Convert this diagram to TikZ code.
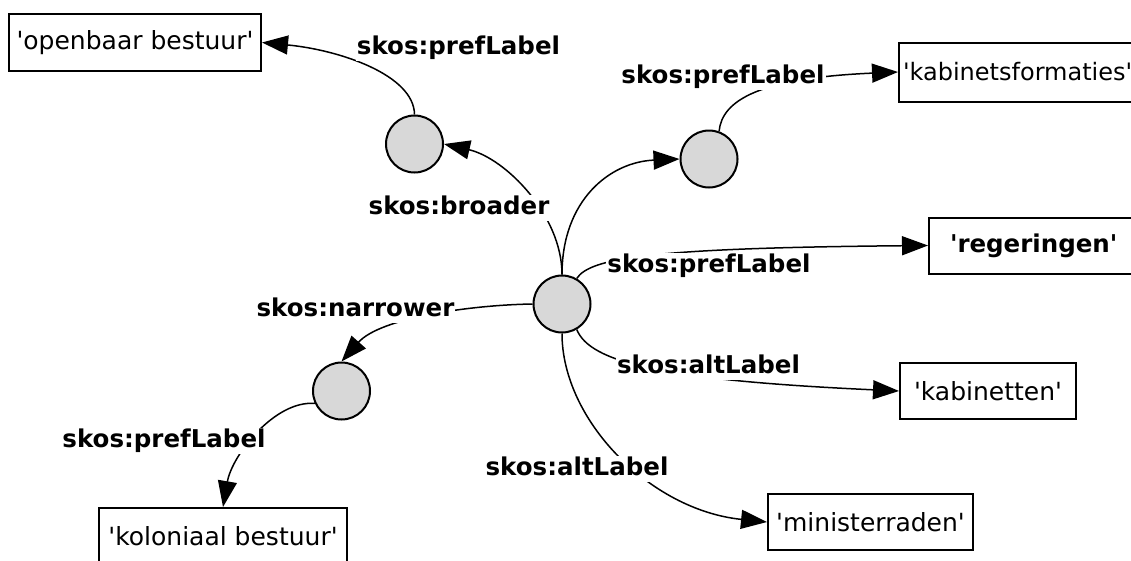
\documentclass[tikz,border=0pt]{standalone}
\usepackage{fontspec}
\newfontfamily\dvsans{DejaVu Sans}
\usetikzlibrary{arrows.meta}
\definecolor{nodegray}{RGB}{216,216,216}
\tikzset{
  concept/.style={circle, draw, line width=2pt, fill=nodegray, minimum size=57pt, inner sep=0pt},
  litbox/.style={rectangle, draw, line width=2pt, minimum height=57pt, inner sep=0pt, font=\dvsans\fontsize{25}{29}\selectfont},
  prop/.style={fill=white, inner sep=1pt, text height=18pt, text depth=6pt, font=\dvsans\fontsize{24.5}{28}\selectfont\bfseries},
  rel/.style={line width=1.5pt, -{Triangle[length=26pt,width=19pt]}}
}
\begin{document}
\begin{tikzpicture}[x=1pt,y=-1pt]
\useasboundingbox (0,0) rectangle (1131,560);
\clip (0,0) rectangle (1131,560);
% concept nodes
\node[concept] (C) at (562,304) {};
\node[concept] (A) at (414.5,144) {};
\node[concept] (B) at (709,159) {};
\node[concept] (D) at (341.5,391) {};
% literal boxes
\node[litbox, minimum width=252pt] (OB) at (135,42.5) {'openbaar bestuur'};
\node[litbox, anchor=west, minimum height=59pt, inner xsep=4pt, minimum width=262pt, text width=254pt, align=left, font=\dvsans\fontsize{24}{28}\selectfont] (KF) at (898,72) {'kabinetsformaties'};
\node[litbox, anchor=west, minimum height=56pt, inner xsep=21pt, font=\dvsans\fontsize{24.5}{28}\selectfont\bfseries] (R) at (928,245.5) {'regeringen'};
\node[litbox, minimum width=176pt, minimum height=56pt] (K) at (988,391) {'kabinetten'};
\node[litbox, minimum width=205pt, minimum height=56pt] (M) at (870.5,522) {'ministerraden'};
\node[litbox, minimum width=248pt, minimum height=56pt] (KB) at (223,536) {'koloniaal bestuur'};
% connectors
\draw[rel] (C.north) .. controls (562,215) and (505,158) .. (A.east);
\draw[rel] (A.north) .. controls (414,75) and (340,50) .. (OB.east);
\draw[rel] (C.north) .. controls (562,200) and (610,162) .. (B.west);
\draw[rel] (B.70) .. controls (722,100) and (760,78) .. (KF.west);
\draw[rel] (C.60) .. controls (590,258) and (650,248) .. (R.west);
\draw[rel] (C.-60) .. controls (590,362) and (660,380) .. (K.west);
\draw[rel] (C.south) .. controls (562,420) and (650,510) .. (M.west);
\draw[rel] (C.west) .. controls (470,305) and (380,318) .. (D.north);
\draw[rel] (D.-155) .. controls (275,400) and (232,455) .. (KB.north);
% property labels
\node[prop, anchor=base] (l1) at (458.5,54) {skos:prefLabel};
\node[prop, anchor=base] (l2) at (459,214) {skos:broader};
\node[prop, anchor=base] (l3) at (723,83) {skos:prefLabel};
\node[prop, anchor=base] (l4) at (709,272) {skos:prefLabel};
\node[prop, anchor=base] (l5) at (708.5,373) {skos:altLabel};
\node[prop, anchor=base] (l6) at (577,475) {skos:altLabel};
\node[prop, anchor=base] (l7) at (355.5,316) {skos:narrower};
\node[prop, anchor=base] (l8) at (164,447) {skos:prefLabel};
\end{tikzpicture}
\end{document}
